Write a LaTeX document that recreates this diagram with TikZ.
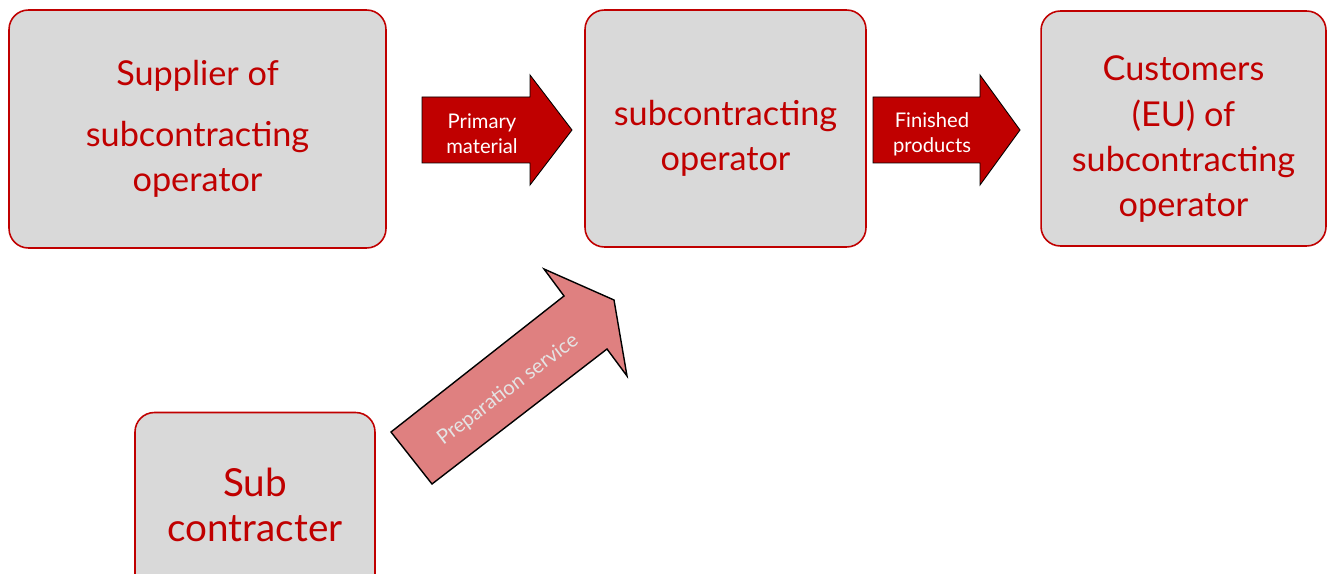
\documentclass[tikz,border=0pt]{standalone}
\usepackage{fontspec}
\setmainfont{Lato}
\usetikzlibrary{calc,positioning}
\definecolor{darkred}{HTML}{C00000}
\definecolor{boxgray}{HTML}{D9D9D9}
\definecolor{lightred}{HTML}{DF8080}
\tikzset{
    party/.style={draw=darkred, line width=0.9pt, fill=boxgray, rounded corners=11pt},
    partytext/.style={text=darkred, align=center, font=\fontsize{19.5}{25.8}\selectfont},
    flowarrow/.style={fill=darkred, draw=black, line width=0.5pt},
    flowlabel/.style={text=white, align=center, font=\fontsize{11.5}{14}\selectfont},
}

\begin{document}
\begin{tikzpicture}[x=0.02cm,y=-0.02cm]% 1 unit = 1 px of the reference
    \clip (0,0) rectangle (1327,574);

    % the parties
    \node[party, minimum width=7.54cm, minimum height=4.76cm] (supplier) at (197.5,129) {};
    \node[party, minimum width=5.62cm, minimum height=4.74cm] (operator) at (725.5,128.5) {};
    \node[party, minimum width=5.7cm, minimum height=4.7cm] (customers) at (1183.5,128.5) {};
    \node[party, minimum width=4.8cm, minimum height=3.7cm] (subcon) at (255,505) {};

    \node[partytext] (suppliertext) at (supplier) {Supplier of\\[8.5pt] subcontracting\\ operator};
    \node[partytext] (operatortext) at ([yshift=-10*0.02cm]operator.center) {subcontracting\\ operator};
    \node[partytext] (customerstext) at ([yshift=-11*0.02cm]customers.center) {Customers\\ (EU) of\\ subcontracting\\ operator};
    \node[partytext, font=\fontsize{22}{26}\selectfont] (subcontext) at (subcon) {Sub\\ contracter};

    % flows between them
    \draw[flowarrow] (422,97) -- (530,97) -- (530,75) -- (572,130) -- (530,185) -- (530,163) -- (422,163) -- cycle;
    \node[flowlabel] (primary) at (482,134) {Primary\\ material};

    \draw[flowarrow] (873,97) -- (980,97) -- (980,75) -- (1020,130) -- (980,185) -- (980,163) -- (873,163) -- cycle;
    \node[flowlabel] (finished) at (932,134) {Finished\\ products};

    \draw[fill=lightred, draw=black, line width=0.8pt] (391,432) -- (564,296) -- (544,269) -- (614,300)
        -- (627,376) -- (607,349) -- (432,484) -- cycle;
    \node[flowlabel, text=boxgray!70!white, rotate=37] (preparation) at (508,390) {Preparation service};

\end{tikzpicture}
\end{document}
